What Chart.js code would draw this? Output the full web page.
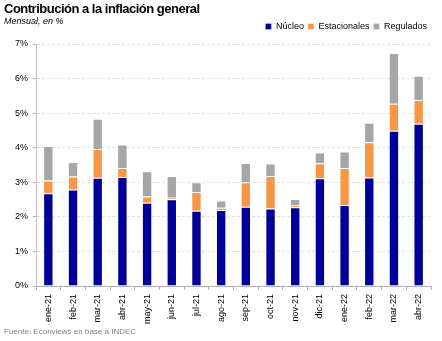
<!DOCTYPE html>
<html lang="es">
<head>
  <meta charset="UTF-8">
  <title>Contribución a la inflación general</title>
  <script src="https://cdn.jsdelivr.net/npm/chart.js"></script>
  <style>
    html, body { margin: 0; padding: 0; background: #fff; }
    #wrap { position: relative; width: 442px; height: 341px; overflow: hidden; font-family: "Liberation Sans", Arial, sans-serif; }
    #wrap canvas { position: absolute; left: 0; top: 0; }
    .title { position: absolute; left: 4px; top: 1px; font-size: 13px; font-weight: bold; letter-spacing: -0.5px; color: #000; }
    .subtitle { position: absolute; left: 4px; top: 16px; font-size: 9px; font-style: italic; color: #000; }
    .source { position: absolute; left: 4px; top: 327px; font-size: 8px; color: #808080; }
  </style>
</head>
<body>
  <div id="wrap">
    <canvas id="chart" width="442" height="341"></canvas>
    <div class="title">Contribución a la inflación general</div>
    <div class="subtitle">Mensual, en %</div>
    <div class="source">Fuente: Econviews en base a INDEC</div>
  </div>

  <script>
  // aporte mensual de cada componente, en puntos porcentuales
  const meses = ['ene-21','feb-21','mar-21','abr-21','may-21','jun-21','jul-21','ago-21',
                 'sep-21','oct-21','nov-21','dic-21','ene-22','feb-22','mar-22','abr-22'];
  const nucleo       = [2.68, 2.79, 3.13, 3.15, 2.41, 2.51, 2.18, 2.20, 2.29, 2.24, 2.28, 3.12, 2.34, 3.14, 4.49, 4.69];
  const estacionales = [0.37, 0.38, 0.83, 0.26, 0.18, 0.04, 0.54, 0.06, 0.71, 0.94, 0.05, 0.43, 1.07, 1.02, 0.78, 0.69];
  const regulados    = [1.00, 0.42, 0.88, 0.68, 0.73, 0.63, 0.28, 0.21, 0.56, 0.36, 0.19, 0.31, 0.48, 0.56, 1.47, 0.70];
  const yTicks = [0, 1, 2, 3, 4, 5, 6, 7];

  const font = "'Liberation Sans', Arial, sans-serif";
  const edge = 'rgba(255,255,255,0.3)';

  // deja aire entre la leyenda y el área del gráfico
  const legendGap = {
    id: 'legendGap',
    beforeInit(chart) {
      const fit = chart.legend.fit;
      chart.legend.fit = function () { fit.bind(chart.legend)(); this.height += 3; };
    }
  };

  new Chart('chart', {
    type: 'bar',
    data: {
      labels: meses,
      datasets: [
        { label: 'Núcleo', data: nucleo, backgroundColor: '#000099', borderColor: edge, borderWidth: 1 },
        { label: 'Estacionales', data: estacionales, backgroundColor: '#F79646', borderColor: edge, borderWidth: 1 },
        { label: 'Regulados', data: regulados, backgroundColor: '#A6A6A6', borderColor: edge, borderWidth: 1 }
      ]
    },
    plugins: [legendGap],
    options: {
      responsive: false,
      animation: false,
      layout: { padding: { top: 18, right: 11, bottom: 0, left: 0 } },
      datasets: { bar: { categoryPercentage: 1, barPercentage: 0.42 } },
      plugins: {
        tooltip: { enabled: false },
        legend: {
          position: 'top', align: 'end',
          labels: { boxWidth: 6, boxHeight: 6, padding: 4, color: '#000', font: { family: font, size: 9 } }
        }
      },
      scales: {
        x: {
          stacked: true,
          afterFit: s => { s.height = 55; },
          grid: { drawOnChartArea: false, drawTicks: true, tickLength: 4, color: '#b0b0b0', offset: true },
          border: { color: '#b0b0b0', width: 1 },
          ticks: { minRotation: 90, maxRotation: 90, padding: 4, color: '#000', font: { family: font, size: 9 } }
        },
        y: {
          stacked: true,
          min: 0, max: 7,
          afterFit: s => { s.width = 36; },
          afterBuildTicks: s => { s.ticks = yTicks.map(v => ({ value: v })); },
          grid: { color: '#e0e0e0', tickColor: '#b0b0b0', tickLength: 3, tickBorderDash: [] },
          border: { color: '#c0c0c0', width: 1, dash: [3, 2] },
          ticks: { padding: 5, color: '#000', font: { family: font, size: 9 }, callback: v => v + '%' }
        }
      }
    }
  });
  </script>
</body>
</html>
